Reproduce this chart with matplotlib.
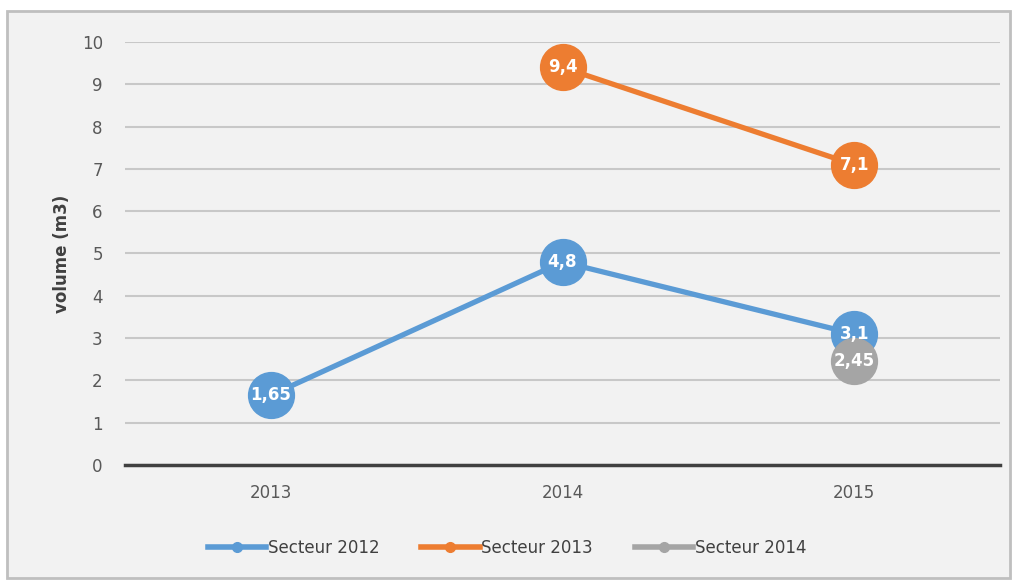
import matplotlib.pyplot as plt
from matplotlib.patches import Rectangle
import numpy as np

# data
years = ['2013', '2014', '2015']
secteur_2012 = [1.65, 4.8, 3.1]
secteur_2013 = [np.nan, 9.4, 7.1]
secteur_2014 = [np.nan, np.nan, 2.45]
labels_2012 = ['1,65', '4,8', '3,1']
labels_2013 = ['', '9,4', '7,1']
labels_2014 = ['', '', '2,45']

bg = '#f2f2f2'
fig = plt.figure(figsize=(10.14, 5.81), dpi=100, facecolor='white')
fig.patches.append(Rectangle((7 / 1014, 3 / 581), 1003 / 1014, 567 / 581,
                             transform=fig.transFigure, facecolor=bg,
                             edgecolor='#bfbfbf', linewidth=2, zorder=-1))

ax = fig.add_axes([125 / 1014, 1 - 465 / 581, 875 / 1014, 423 / 581])
ax.set_facecolor(bg)

x = np.arange(len(years))
series = [
    (secteur_2012, labels_2012, '#5b9bd5', 'Secteur 2012'),
    (secteur_2013, labels_2013, '#ed7d31', 'Secteur 2013'),
    (secteur_2014, labels_2014, '#a5a5a5', 'Secteur 2014'),
]
for vals, labs, col, name in series:
    ax.plot(x, vals, color=col, lw=3.8, marker='o', markersize=33,
            solid_capstyle='round', label=name, zorder=3)
    for xi, v, t in zip(x, vals, labs):
        if t:
            ax.text(xi, v, t, color='white', fontsize=12, fontweight='bold',
                    ha='center', va='center', zorder=4)

ax.set_xlim(-0.5, 2.5)
ax.set_ylim(0, 10)
ax.set_yticks(range(0, 11))
ax.set_xticks(x)
ax.set_xticklabels(years)
ax.grid(axis='y', color='#c8c8c8', lw=1.5)
ax.set_axisbelow(True)
for s in ax.spines.values():
    s.set_visible(False)
ax.axhline(0, color='#404040', lw=2.5, zorder=2, clip_on=False)
ax.tick_params(length=0, labelsize=12, labelcolor='#595959')
ax.tick_params(axis='y', pad=16)
ax.tick_params(axis='x', pad=14)
ax.set_ylabel('volume (m3)', fontsize=12, fontweight='bold', color='#404040', labelpad=8)

handles = [plt.Line2D([0], [0], color=c, lw=4, marker='o', markersize=7)
           for _, _, c, _ in series]
fig.legend(handles, [n for *_, n in series], loc='center', bbox_to_anchor=(0.5, 1 - 548 / 581),
           ncol=3, frameon=False, fontsize=12, labelcolor='#404040',
           handlelength=3.5, handletextpad=0.1, columnspacing=2.5)

fig.savefig('out.png', dpi=100, facecolor='white')
